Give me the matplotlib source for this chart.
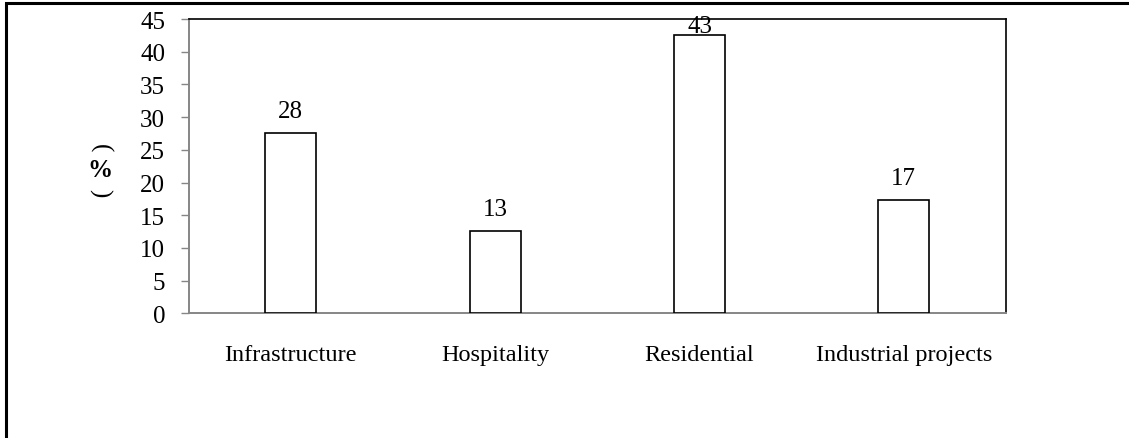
import numpy as np
import matplotlib
matplotlib.use("Agg")
import matplotlib.pyplot as plt
from matplotlib.patches import Rectangle

# sector shares (%)
sectors = ["Infrastructure", "Hospitality", "Residential", "Industrial projects"]
shares = [27.6, 12.6, 42.6, 17.3]
yticks = [0, 5, 10, 15, 20, 25, 30, 35, 40, 45]

plt.rcParams["font.family"] = ["Liberation Serif", "DejaVu Serif"]

W, H = 1129, 439
fig = plt.figure(figsize=(W / 100, H / 100), dpi=100)
ax = fig.add_axes([188.7 / W, 1 - 314.3 / H, (1006 - 188.7) / W, (314.3 - 20) / H])

x = np.arange(len(sectors))
ax.bar(x, shares, width=0.25, color="white", edgecolor="black", linewidth=1.2, zorder=3)

# value labels above each bar, kept inside the top of the plot area
for xi, v in zip(x, shares):
    ax.text(xi, min(v + 2.45, 43.0), f"{int(v + 0.5)}", ha="center", va="baseline",
            fontsize=18, zorder=4)

ax.set_xlim(-0.5, len(sectors) - 0.5)
ax.set_ylim(0, 45)
ax.set_yticks(yticks)
ax.set_yticklabels([str(t) for t in yticks], fontsize=18)
ax.set_xticks(x)
ax.set_xticklabels(sectors, fontsize=17.5)
ax.tick_params(axis="y", direction="out", length=6, width=1.0, color="#868686", pad=11)
ax.tick_params(axis="x", length=0, pad=22)

for side in ["left", "bottom"]:
    ax.spines[side].set_color("#868686")
    ax.spines[side].set_linewidth(1.4)
for side in ["top", "right"]:
    ax.spines[side].set_color("black")
    ax.spines[side].set_linewidth(1.2)

# stacked "(%)" axis title: upright %, parentheses turned sideways
for ch, yp, rot, wt in [("(", 148, -90, "normal"), ("%", 171, 0, "bold"),
                        (")", 193, -90, "normal")]:
    fig.text(100 / W, 1 - yp / H, ch, rotation=rot, rotation_mode="anchor",
             ha="center", va="center", fontsize=18, fontweight=wt)

# frame around the chart (open to the right and bottom edges)
fig.patches.append(Rectangle((6 / W, -0.1), 1.2, 1.1 - 4 / H,
                             transform=fig.transFigure, fill=False,
                             edgecolor="black", linewidth=2.2))

fig.savefig("out.png", dpi=100)
